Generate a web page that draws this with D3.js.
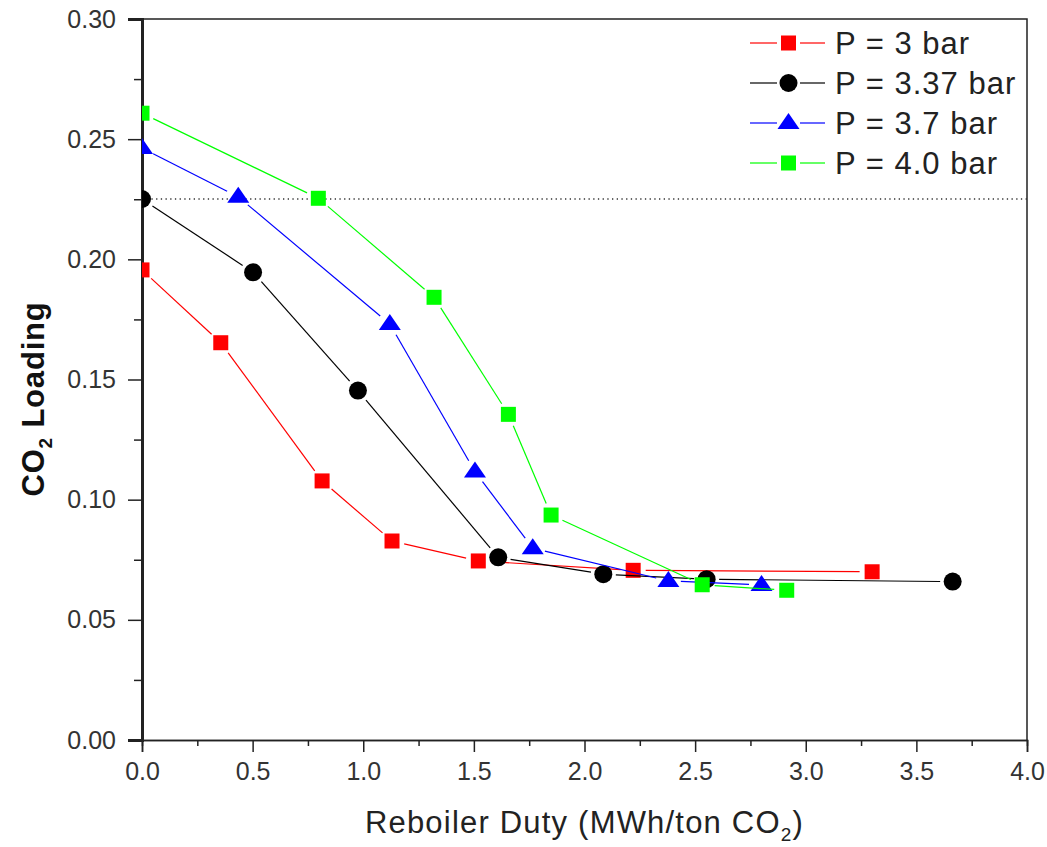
<!DOCTYPE html>
<html>
<head>
<meta charset="utf-8">
<script src="https://cdn.jsdelivr.net/npm/d3@7"></script>
<style>
  body { margin: 0; background: #fff; }
  svg { font-family: Arial, "Liberation Sans", sans-serif; }
</style>
</head>
<body>
<div id="chart"></div>
<script>
// reboiler duty (x) and CO2 loading (y) per pressure
const xRed = [0, 0.356, 0.814, 1.13, 1.52, 2.22, 3.30];
const yRed = [0.1956, 0.1653, 0.1078, 0.0828, 0.0745, 0.0706, 0.0700];
const xBlack = [0, 0.502, 0.976, 1.61, 2.085, 2.552, 3.664];
const yBlack = [0.2251, 0.1946, 0.1454, 0.0760, 0.0690, 0.0669, 0.0659];
const xBlue = [0, 0.435, 1.12, 1.505, 1.766, 2.379, 2.80];
const yBlue = [0.2463, 0.2260, 0.1731, 0.1117, 0.0798, 0.0662, 0.0645];
const xGreen = [0, 0.797, 1.32, 1.656, 1.849, 2.532, 2.914];
const yGreen = [0.2608, 0.2254, 0.1842, 0.1355, 0.0936, 0.0646, 0.0623];
const refLoading = 0.2251;

const seriesNames = ["P = 3 bar", "P = 3.37 bar", "P = 3.7 bar", "P = 4.0 bar"];
const xTicks = [0, 0.5, 1, 1.5, 2, 2.5, 3, 3.5, 4];
const yTicks = [0, 0.05, 0.10, 0.15, 0.20, 0.25, 0.30];

const series = [
  { name: seriesNames[0], xs: xRed, ys: yRed, color: "#ff0000", shape: "square" },
  { name: seriesNames[1], xs: xBlack, ys: yBlack, color: "#000000", shape: "circle" },
  { name: seriesNames[2], xs: xBlue, ys: yBlue, color: "#0000ff", shape: "triangle" },
  { name: seriesNames[3], xs: xGreen, ys: yGreen, color: "#00ff00", shape: "square" }
];

const width = 1047, height = 847;
const margin = { left: 142, right: 20, top: 19, bottom: 107 };

const svg = d3.select("#chart").append("svg")
  .attr("width", width).attr("height", height);

const x = d3.scaleLinear().domain([0, 4]).range([margin.left, width - margin.right]);
const y = d3.scaleLinear().domain([0, 0.30]).range([height - margin.bottom, margin.top]);

svg.append("defs").append("clipPath").attr("id", "plot-clip")
  .append("rect")
  .attr("x", x(0)).attr("y", y(0.30))
  .attr("width", x(4) - x(0)).attr("height", y(0) - y(0.30));

// frame (top / right)
svg.append("path")
  .attr("d", `M${x(0)},${y(0.30)}H${x(4)}V${y(0)}`)
  .attr("fill", "none").attr("stroke", "#222").attr("stroke-width", 1.5);

// reference dotted line
svg.append("line")
  .attr("x1", x(0)).attr("x2", x(4))
  .attr("y1", y(refLoading)).attr("y2", y(refLoading))
  .attr("stroke", "#333").attr("stroke-width", 1.3)
  .attr("stroke-dasharray", "1.3,3.4");

// axes
const xAxis = d3.axisBottom(x).tickValues(xTicks).tickSize(12).tickPadding(10)
  .tickFormat(d3.format(".1f"));
const xMinor = d3.axisBottom(x).tickValues(d3.range(0.25, 4, 0.5)).tickSize(6).tickFormat("");
const yAxis = d3.axisLeft(y).tickValues(yTicks).tickSize(14).tickPadding(12)
  .tickFormat(d3.format(".2f"));
const yMinor = d3.axisLeft(y).tickValues(d3.range(0.025, 0.3, 0.05)).tickSize(8).tickFormat("");

function styleAxis(g, w) {
  g.select(".domain").attr("stroke", "#222").attr("stroke-width", w);
  g.selectAll(".tick line").attr("stroke", "#222").attr("stroke-width", 1.5);
  g.selectAll(".tick text").attr("fill", "#333").style("font-size", "25px");
}

svg.append("g").attr("transform", `translate(0,${y(0)})`).call(xMinor).call(g => styleAxis(g, 1.5));
svg.append("g").attr("transform", `translate(0,${y(0)})`).call(xAxis).call(g => styleAxis(g, 1.5));
svg.append("g").attr("transform", `translate(${x(0)},0)`).call(yMinor).call(g => styleAxis(g, 3));
svg.append("g").attr("transform", `translate(${x(0)},0)`).call(yAxis).call(g => styleAxis(g, 3));

// symbols
function drawSymbol(g, shape, cx, cy, color) {
  if (shape === "square") {
    g.append("rect").attr("x", cx - 7.5).attr("y", cy - 7.5).attr("width", 15).attr("height", 15)
      .attr("fill", color);
  } else if (shape === "circle") {
    g.append("circle").attr("cx", cx).attr("cy", cy).attr("r", 9).attr("fill", color);
  } else {
    g.append("path")
      .attr("d", `M${cx},${cy - 10}L${cx + 11},${cy + 6}L${cx - 11},${cy + 6}Z`)
      .attr("fill", color);
  }
}

const plot = svg.append("g").attr("clip-path", "url(#plot-clip)");
const gap = 12.5;
series.forEach(s => {
  const pts = s.xs.map((v, i) => [x(v), y(s.ys[i])]);
  const segs = [];
  for (let i = 0; i < pts.length - 1; i++) {
    const [x1, y1] = pts[i], [x2, y2] = pts[i + 1];
    const len = Math.hypot(x2 - x1, y2 - y1);
    if (len <= 2 * gap) continue;
    const ux = (x2 - x1) / len, uy = (y2 - y1) / len;
    segs.push([[x1 + ux * gap, y1 + uy * gap], [x2 - ux * gap, y2 - uy * gap]]);
  }
  plot.selectAll(null).data(segs).join("path")
    .attr("d", d3.line())
    .attr("fill", "none").attr("stroke", s.color).attr("stroke-width", 1.2);
  pts.forEach(p => drawSymbol(plot, s.shape, p[0], p[1], s.color));
});

// legend
const legend = svg.append("g");
series.forEach((s, i) => {
  const ly = 43 + i * 40;
  legend.append("line").attr("x1", 750).attr("x2", 777).attr("y1", ly).attr("y2", ly)
    .attr("stroke", s.color).attr("stroke-width", 1.2);
  legend.append("line").attr("x1", 800).attr("x2", 825).attr("y1", ly).attr("y2", ly)
    .attr("stroke", s.color).attr("stroke-width", 1.2);
  drawSymbol(legend, s.shape, 788.5, ly, s.color);
  legend.append("text").attr("x", 835).attr("y", ly + 11)
    .attr("fill", "#222").style("font-size", "31px").style("letter-spacing", "1px").text(s.name);
});

// axis titles
const xt = svg.append("text")
  .attr("x", (x(0) + x(4)) / 2).attr("y", 833)
  .attr("text-anchor", "middle").attr("fill", "#222")
  .style("font-size", "31px").style("letter-spacing", "1.2px");
xt.append("tspan").text("Reboiler Duty (MWh/ton CO");
xt.append("tspan").attr("dy", 8).style("font-size", "19px").text("2");
xt.append("tspan").attr("dy", -8).text(")");

const yt = svg.append("text")
  .attr("transform", "translate(44,399) rotate(-90)")
  .attr("text-anchor", "middle").attr("fill", "#111")
  .style("font-size", "31px").style("font-weight", "bold").style("letter-spacing", "0.8px");
yt.append("tspan").text("CO");
yt.append("tspan").attr("dy", 8).style("font-size", "19px").text("2");
yt.append("tspan").attr("dy", -8).text(" Loading");
</script>
</body>
</html>
